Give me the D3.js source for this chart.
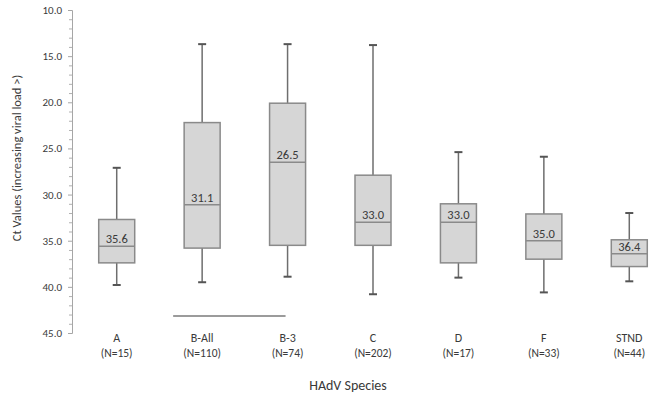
<!DOCTYPE html>
<html>
<head>
<meta charset="utf-8">
<script src="https://cdn.jsdelivr.net/npm/d3@7"></script>
<style>
  body { margin: 0; background: #fff; }
  text { font-family: Calibri, Carlito, "Open Sans", sans-serif; fill: #3a3a3a; }
</style>
</head>
<body>
<svg id="chart" width="650" height="394"></svg>
<script>
// chart data
var species = ["A", "B-All", "B-3", "C", "D", "F", "STND"];
var counts = [15, 110, 74, 202, 17, 33, 44];
var whiskerLow = [27.1, 13.7, 13.7, 13.8, 25.4, 25.9, 32.0];
var boxLow = [32.7, 22.2, 20.1, 27.9, 31.0, 32.1, 34.9];
var medians = [35.6, 31.1, 26.5, 33.0, 33.0, 35.0, 36.4];
var boxHigh = [37.4, 35.8, 35.5, 35.5, 37.4, 37.0, 37.8];
var whiskerHigh = [39.8, 39.5, 38.9, 40.8, 39.0, 40.6, 39.4];
var yTicks = [10, 15, 20, 25, 30, 35, 40, 45];

var svg = d3.select("#chart");

var data = species.map(function(s, i) {
  return {name: s, n: counts[i], wLo: whiskerLow[i], q1: boxLow[i],
          med: medians[i], q3: boxHigh[i], wHi: whiskerHigh[i]};
});

var yScale = d3.scaleLinear().domain([10, 45]).range([10, 333]);
var xScale = d3.scaleBand().domain(species).range([74, 672]);
var boxW = 36;

//////////////////////////////////////////////////////////////////////////////
// y axis

var yAxis = svg.append("g")
  .attr("transform", "translate(72,0)")
  .call(d3.axisLeft(yScale).tickValues(yTicks).tickSize(4).tickPadding(6)
    .tickFormat(d3.format(".1f")));
yAxis.select(".domain").attr("stroke", "#a6a6a6");
yAxis.selectAll(".tick line").attr("stroke", "#a6a6a6");
yAxis.selectAll("text").attr("fill", "#555").style("font-size", "11px")
  .style("font-family", "Calibri, Carlito, 'Open Sans', sans-serif");

// minor ticks every 1.0
svg.append("g").selectAll("line")
  .data(d3.range(10, 46).filter(function(d) { return d % 5 !== 0; }))
  .enter()
  .append("line")
  .attr("x1", 69).attr("x2", 72)
  .attr("y1", function(d) { return yScale(d) + 0.5; })
  .attr("y2", function(d) { return yScale(d) + 0.5; })
  .attr("stroke", "#b0b0b0");

// y axis label
svg.append("text")
  .attr("transform", "translate(17," + 158 + ") rotate(-90)")
  .style("text-anchor", "middle")
  .style("font-size", "12.5px")
  .attr("dy", "0.35em")
  .text("Ct Values (increasing viral load >)");

//////////////////////////////////////////////////////////////////////////////
// boxes

var groups = svg.append("g").selectAll("g")
  .data(data)
  .enter()
  .append("g")
  .attr("transform", function(d) {
    return "translate(" + (xScale(d.name) + xScale.bandwidth() / 2) + ",0)";
  });

// whiskers
groups.append("line")
  .attr("x1", 0).attr("x2", 0)
  .attr("y1", function(d) { return yScale(d.wLo); })
  .attr("y2", function(d) { return yScale(d.wHi); })
  .attr("stroke", "#6e6e6e").attr("stroke-width", 1.5);

groups.selectAll(".cap")
  .data(function(d) { return [d.wLo, d.wHi]; })
  .enter()
  .append("line")
  .attr("class", "cap")
  .attr("x1", -4).attr("x2", 4)
  .attr("y1", function(d) { return yScale(d); })
  .attr("y2", function(d) { return yScale(d); })
  .attr("stroke", "#555").attr("stroke-width", 2);

groups.append("rect")
  .attr("x", -boxW / 2)
  .attr("width", boxW)
  .attr("y", function(d) { return yScale(d.q1); })
  .attr("height", function(d) { return yScale(d.q3) - yScale(d.q1); })
  .attr("fill", "#d6d6d6")
  .attr("stroke", "#8a8a8a").attr("stroke-width", 1.5);

groups.append("line")
  .attr("x1", -boxW / 2).attr("x2", boxW / 2)
  .attr("y1", function(d) { return yScale(d.med); })
  .attr("y2", function(d) { return yScale(d.med); })
  .attr("stroke", "#8a8a8a").attr("stroke-width", 1.5);

groups.append("text")
  .attr("y", function(d) { return yScale(d.med) - 3; })
  .style("text-anchor", "middle")
  .style("font-size", "12.5px")
  .text(function(d) { return d.med.toFixed(1); });

//////////////////////////////////////////////////////////////////////////////
// category labels

groups.append("text")
  .attr("y", 342)
  .style("text-anchor", "middle")
  .style("font-size", "12px")
  .text(function(d) { return d.name; });

groups.append("text")
  .attr("y", 357)
  .style("text-anchor", "middle")
  .style("font-size", "11.5px")
  .text(function(d) { return "(N=" + d.n + ")"; });

// bracket over the B species
svg.append("line")
  .attr("x1", xScale("B-All") + xScale.bandwidth() / 2 - 29)
  .attr("x2", xScale("B-3") + xScale.bandwidth() / 2 - 2)
  .attr("y1", 316).attr("y2", 316)
  .attr("stroke", "#7a7a7a").attr("stroke-width", 1.5);

// x axis label
svg.append("text")
  .attr("x", 348)
  .attr("y", 390)
  .style("text-anchor", "middle")
  .style("font-size", "14px")
  .text("HAdV Species");
</script>
</body>
</html>
